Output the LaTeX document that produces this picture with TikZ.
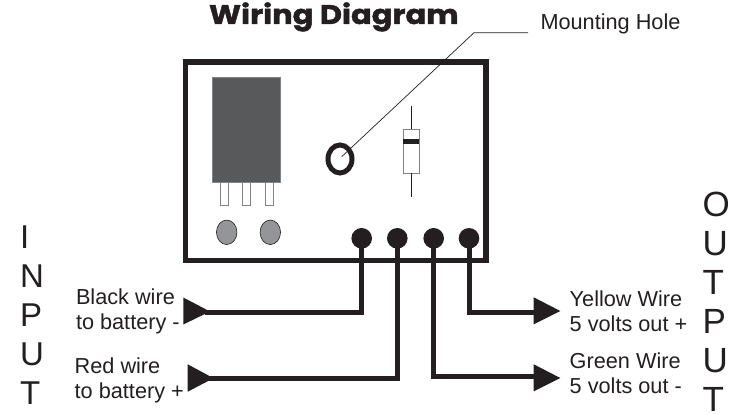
\documentclass[tikz,border=0pt]{standalone}
\usepackage{fontspec}
\setmainfont{Liberation Sans}
\newfontfamily\labelfont{Liberation Sans}
\newfontfamily\titlefont[UprightFeatures={FakeBold=1.5,FakeStretch=1.13},BoldFeatures={FakeBold=1.5,FakeStretch=1.13}]{Poppins}
\definecolor{ink}{HTML}{231F20}
\definecolor{relaygray}{HTML}{58595B}
\definecolor{holegray}{HTML}{939598}
\definecolor{pingray}{HTML}{808285}
\usetikzlibrary{shapes.geometric}
\tikzset{
  every node/.style={outer sep=0pt},
  wire/.style={draw=ink,line width=5pt,line join=miter},
  head/.style={fill=ink,draw=none},
  terminal/.style={circle,fill=ink,minimum size=20.6pt,inner sep=0pt},
  screw/.style={ellipse,draw=ink,line width=0.6pt,fill=holegray,minimum width=20.5pt,minimum height=24.5pt,inner sep=0pt},
  pin/.style={draw=pingray,line width=1pt,fill=white},
  label/.style={inner sep=0pt,anchor=north west,align=left,text=ink,font=\labelfont\fontsize{21.7}{25}\selectfont},
  bigstack/.style={inner sep=0pt,anchor=north west,align=left,text=ink,font=\labelfont\fontsize{33}{39}\selectfont},
}
\begin{document}
\begin{tikzpicture}[x=1pt,y=-1pt]
\useasboundingbox (0,0) rectangle (736,414);
% title and callout
\node[inner sep=0pt,anchor=base west,text=ink,font=\titlefont\bfseries\fontsize{27}{30}\selectfont] (title) at (209,24) {Wiring Diagram};
\node[label,anchor=base west] (mh) at (540.5,29.5) {Mounting Hole};
% board
\node[draw=ink,line width=5.5pt,minimum width=300.5pt,minimum height=198.5pt,inner sep=0pt,anchor=north west] (board) at (185.7,62) {};
% relay
\node[draw=pingray,line width=0.8pt,fill=relaygray,minimum width=68pt,minimum height=105pt,inner sep=0pt,anchor=north west] (relay) at (212.7,77.7) {};
\draw[pin] (220,182.7) rectangle (228.5,205.3);
\draw[pin] (242.5,182.7) rectangle (250.5,205.3);
\draw[pin] (265.2,182.7) rectangle (273.5,205.3);
\node[screw] (s1) at (226.7,232.3) {};
\node[screw] (s2) at (270.3,232.3) {};
% diode
\coordinate (dtop) at (411.3,105.7);
\coordinate (dbot) at (411.3,196.7);
\node[draw=pingray,line width=1pt,fill=white,minimum width=16pt,minimum height=44pt,inner sep=0pt,anchor=north west] (diode) at (403.3,129.3) {};
\fill[ink] (403.3,138.7) rectangle (419.3,144);
\draw[draw=ink,line width=1pt] (dtop) -- (diode.north);
\draw[draw=ink,line width=1pt] (diode.south) -- (dbot);
% mounting hole
\node[ellipse,draw=ink,line width=5pt,minimum width=24pt,minimum height=28pt,inner sep=0pt] (hole) at (340,159) {};
\coordinate (ha) at (341.7,156.7);
\coordinate (hb) at (474,32.7);
\coordinate (hc) at (528,32.7);
\draw[draw=ink,line width=0.7pt] (ha) -- (hb) -- (hc);
% terminals
\node[terminal] (t1) at (361.7,238.3) {};
\node[terminal] (t2) at (397.3,238.3) {};
\node[terminal] (t3) at (433.7,238.3) {};
\node[terminal] (t4) at (469,238.3) {};
% arrowheads
\coordinate (hblack) at (205,312.5);
\coordinate (hred) at (208,378.5);
\coordinate (hyellow) at (534,312);
\coordinate (hgreen) at (534,376.5);
\fill[head] (183.3,297.5) -- (183.3,324.5) -- (210,311.5) -- cycle;
\fill[head] (187.7,364.3) -- (187.7,391.7) -- (213.5,378.2) -- cycle;
\fill[head] (533.7,297.3) -- (533.7,324.3) -- (560.3,311) -- cycle;
\fill[head] (533.7,364.3) -- (533.7,391.3) -- (560.3,378) -- cycle;
% wires
\draw[wire] (t1.center) |- (hblack);
\draw[wire] (t2.center) |- (hred);
\draw[wire] (t3.center) |- (hgreen);
\draw[wire] (t4.center) |- (hyellow);
% labels
\node[label] (lb) at (76,289.2) {Black wire\\to battery -};
\node[label] (lr) at (74.7,357.5) {Red wire\\to battery +};
\node[label] (ly) at (569.7,291) {Yellow Wire\\5 volts out +};
\node[label] (lg) at (569.7,352.5) {Green Wire\\5 volts out -};
\node[bigstack] (inp) at (20,225.7) {I\\N\\P\\U\\T};
\node[bigstack,font=\labelfont\fontsize{35}{39}\selectfont] (outp) at (702.5,192.2) {O\\U\\T\\P\\U\\T};
\end{tikzpicture}
\end{document}
